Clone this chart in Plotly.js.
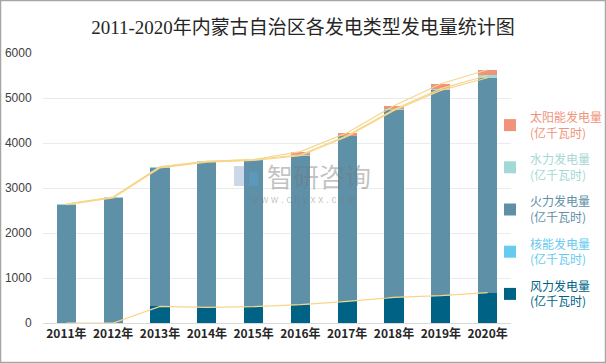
<!DOCTYPE html>
<html><head><meta charset="utf-8">
<script src="https://cdn.plot.ly/plotly-3.0.1.min.js"></script>
<style>html,body{margin:0;padding:0;background:#fff}#c{width:606px;height:363px}</style>
</head><body><div id="c"></div>
<script>
const years = ['2011年','2012年','2013年','2014年','2015年','2016年','2017年','2018年','2019年','2020年'];
const wind    = [0, 0, 369, 347, 362, 407, 481, 570, 607, 673];
const nuclear = [0, 0, 0, 0, 0, 0, 0, 0, 0, 0];
const thermal = [2630, 2780, 3080, 3225, 3250, 3310, 3665, 4155, 4563, 4778];
const hydro   = [15, 20, 20, 20, 20, 22, 20, 20, 37, 50];
const solar   = [0, 0, 0, 0, 0, 70, 61, 83, 111, 128];

const names = ['风力发电量','核能发电量','火力发电量','水力发电量','太阳能发电量'];
const colors = ['#006386','#66cbef','#5e90a8','#a3d9d5','#f0937b'];
const series = [wind, nuclear, thermal, hydro, solar];
const CJK = 'Noto Sans CJK SC, sans-serif';

const traces = [];
series.forEach((s,i)=>{
  traces.push({type:'bar', x:years, y:s, marker:{color:colors[i]},
    name:'<span style="color:'+colors[i]+'">'+names[i]+'<br>(亿千瓦时)</span>',
    legendgroup:'g'+i, legendrank:10-i, hoverinfo:'skip'});
});
// series lines connecting stack tops
let cum = years.map(()=>0);
series.forEach((s,i)=>{
  cum = cum.map((v,j)=>v+s[j]);
  if (i===1) return;
  traces.push({type:'scatter', mode:'lines', x:years, y:cum.slice(), showlegend:false,
    line:{color:'#f7d68a', width:1.2}, hoverinfo:'skip'});
});

const px = (x)=> (x-43)/468, py = (y)=> (323-y)/270;
const layout = {
  width:606, height:363,
  margin:{l:43, r:95, t:53, b:40, autoexpand:false},
  paper_bgcolor:'#fff', plot_bgcolor:'#fff',
  barmode:'stack', bargap:0.59,
  title:{text:'2011-2020年内蒙古自治区各发电类型发电量统计图', x:0.5, xanchor:'center', y:0.925, yanchor:'middle',
    font:{family:'Liberation Serif, Noto Sans CJK SC, serif', size:19, color:'#262626'}},
  xaxis:{type:'category', tickfont:{family:CJK, size:12, color:'#262626', weight:'bold'},
    showline:true, linecolor:'#d9d9d9', linewidth:1, ticks:'', showgrid:false},
  yaxis:{range:[0,6000], dtick:1000, tickfont:{family:'Liberation Sans, sans-serif', size:12, color:'#404040'},
    gridcolor:'#ebebeb', gridwidth:1, zeroline:false, showline:false, ticks:'outside', ticklen:8, tickcolor:'rgba(0,0,0,0)'},
  legend:{x:px(490), xanchor:'left', y:py(103), yanchor:'top', traceorder:'grouped',
    font:{family:CJK, size:12}, itemwidth:30, tracegroupgap:8, bgcolor:'rgba(0,0,0,0)'},
  showlegend:true,
  annotations:[
    {xref:'paper', yref:'paper', x:px(319), y:py(175), text:'智研咨询', showarrow:false,
     font:{family:CJK, size:26, color:'rgba(120,120,120,0.45)'}},
    {xref:'paper', yref:'paper', x:px(303), y:py(199), text:'w w w . c h y x x . c o m', showarrow:false,
     font:{family:'Liberation Sans, sans-serif', size:10, color:'rgba(120,120,120,0.45)'}}
  ],
  shapes:[
    {type:'rect', xref:'paper', yref:'paper', x0:px(0.5), x1:px(605.5), y0:py(362.5), y1:py(0.5),
      line:{color:'#a6a6a6', width:1.5}},
    {type:'rect', xref:'paper', yref:'paper', x0:px(234), x1:px(248), y0:py(186), y1:py(166),
      fillcolor:'rgba(110,140,190,0.35)', line:{width:0}},
    {type:'rect', xref:'paper', yref:'paper', x0:px(249), x1:px(258), y0:py(186), y1:py(172),
      fillcolor:'rgba(90,170,220,0.35)', line:{width:0}}
  ]
};
Plotly.newPlot('c', traces, layout, {staticPlot:true, displayModeBar:false});
</script></body></html>
